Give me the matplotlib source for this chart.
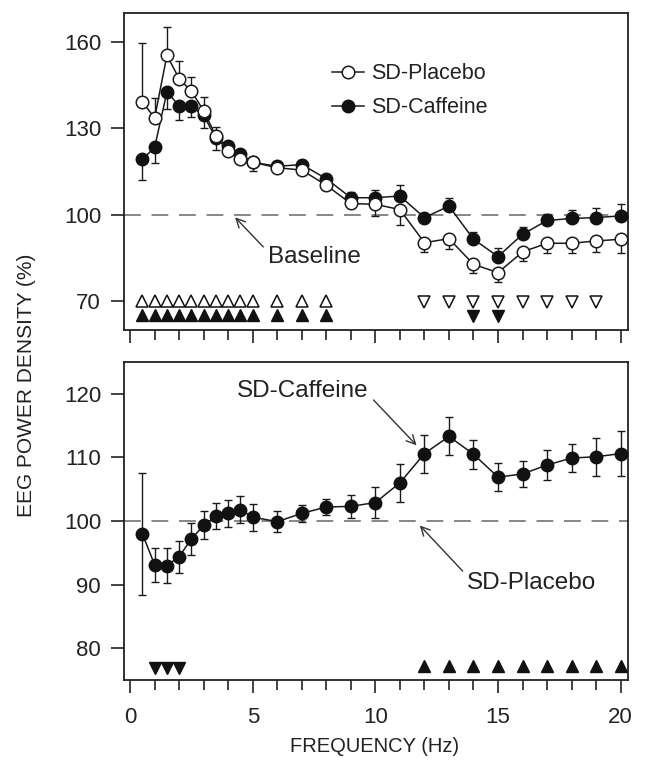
import numpy as np
import matplotlib
matplotlib.use("Agg")
import matplotlib.pyplot as plt
from matplotlib import font_manager as fm

# ---------------- data ----------------
freq = [0.5, 1, 1.5, 2, 2.5, 3, 3.5, 4, 4.5, 5, 6, 7, 8, 9, 10, 11, 12, 13, 14, 15, 16, 17, 18, 19, 20]

placebo = [139.1, 133.6, 155.3, 147.2, 142.8, 136.1, 127.2, 122.0, 119.2, 118.2, 116.3, 115.5, 110.2,
           103.9, 103.6, 101.8, 90.3, 91.7, 82.8, 79.9, 87.1, 90.1, 90.1, 90.9, 91.5]
placebo_err = [20.4, 6.9, 10.0, 6.0, 5.0, 4.7, 3.3, 2.9, 2.0, 2.0, 1.5, 1.2, 1.5,
               1.5, 4.0, 5.5, 3.2, 3.5, 2.9, 3.2, 3.1, 3.5, 3.5, 4.0, 4.9]

caffeine = [119.2, 123.4, 142.6, 137.8, 137.6, 134.5, 126.5, 123.8, 121.2, 118.2, 116.8, 117.4, 112.5,
            105.9, 105.9, 106.5, 99.0, 103.0, 91.5, 85.5, 93.2, 98.0, 98.7, 99.0, 99.6]
caffeine_err = [7.3, 5.4, 6.0, 4.8, 3.7, 4.4, 4.0, 2.5, 3.5, 3.0, 1.5, 1.5, 1.8,
                2.0, 2.6, 3.7, 1.2, 2.9, 2.5, 2.8, 2.6, 2.1, 2.8, 3.4, 4.0]

ratio = [98.0, 93.1, 93.0, 94.4, 97.2, 99.3, 100.8, 101.2, 101.8, 100.6, 99.9, 101.2, 102.2,
         102.3, 102.9, 106.0, 110.6, 113.3, 110.5, 106.9, 107.4, 108.8, 109.9, 110.1, 110.6]
ratio_err = [9.6, 2.7, 2.7, 2.5, 2.5, 2.2, 2.1, 2.1, 2.1, 2.1, 1.6, 1.3, 1.2,
             1.8, 2.5, 3.0, 3.0, 3.0, 2.3, 2.2, 2.0, 2.3, 2.2, 3.0, 3.6]

# significance markers
top_open_up = [0.5, 1, 1.5, 2, 2.5, 3, 3.5, 4, 4.5, 5, 6, 7, 8]
top_filled_up = [0.5, 1, 1.5, 2, 2.5, 3, 3.5, 4, 4.5, 5, 6, 7, 8]
top_open_down = [12, 13, 14, 15, 16, 17, 18, 19]
top_filled_down = [14, 15]
bottom_filled_down = [1, 1.5, 2]
bottom_filled_up = [12, 13, 14, 15, 16, 17, 18, 19, 20]

x_major = [0, 5, 10, 15, 20]
x_minor = list(range(0, 21))
top_yticks = [70, 100, 130, 160]
bottom_yticks = [80, 90, 100, 110, 120]

# ---------------- fonts ----------------
names = {f.name for f in fm.fontManager.ttflist}
MAIN = "Liberation Sans" if "Liberation Sans" in names else "DejaVu Sans"
NARROW = "Liberation Sans Narrow" if "Liberation Sans Narrow" in names else MAIN
plt.rcParams["font.family"] = [MAIN, "DejaVu Sans"]

TXT = "#222222"
FS_TICK = 16
FS_LEG = 15.5
FS_ANN = 17.5

fig = plt.figure(figsize=(6.48, 7.73), dpi=100)
W, H = 648.0, 773.0
def axrect(l, r, t, b):
    return [l / W, 1 - b / H, (r - l) / W, (b - t) / H]

ax1 = fig.add_axes(axrect(124, 628, 13, 330))
ax2 = fig.add_axes(axrect(124, 628, 362, 680))

freq_a = np.array(freq)
low = freq_a <= 6
z = np.zeros_like(freq_a)

pl = np.array(placebo_err)
cf = np.array(caffeine_err)
pl_yerr = [np.where(low, z, pl), np.where(low, pl, z)]
cf_yerr = [np.where(low, cf, z), np.where(low, z, cf)]

MS = 9
LW = 1.1

# caffeine (filled) drawn first
ax1.errorbar(freq, caffeine, yerr=cf_yerr, fmt="none", ecolor="#1a1a1a", elinewidth=1.0,
             capsize=3, capthick=1.0, zorder=2)
ax1.plot(freq, caffeine, "-o", color="#1a1a1a", mfc="#111111", mec="#111111",
         ms=MS, lw=LW, label="SD-Caffeine", zorder=3)
ax1.errorbar(freq, placebo, yerr=pl_yerr, fmt="none", ecolor="#1a1a1a", elinewidth=1.0,
             capsize=3, capthick=1.0, zorder=4)
ax1.plot(freq, placebo, "-o", color="#1a1a1a", mfc="white", mec="#1a1a1a", mew=1.1,
         ms=MS, lw=LW, label="SD-Placebo", zorder=5)

ax1.axhline(100, color="#666666", lw=1.1, dashes=(11, 7), zorder=1)

TMS = 8.5
ax1.plot(top_open_up, [70] * len(top_open_up), "^", ms=TMS, mfc="white", mec="#111111", mew=1.1, ls="none")
ax1.plot(top_filled_up, [65.3] * len(top_filled_up), "^", ms=TMS, mfc="#111111", mec="#111111", ls="none")
ax1.plot(top_open_down, [69.6] * len(top_open_down), "v", ms=TMS, mfc="white", mec="#111111", mew=1.1, ls="none")
ax1.plot(top_filled_down, [65.0] * len(top_filled_down), "v", ms=TMS, mfc="#111111", mec="#111111", ls="none")

ax1.annotate("Baseline", xy=(4.28, 99.1), xytext=(5.62, 85.2), fontsize=FS_ANN, color=TXT,
             ha="left", va="center",
             arrowprops=dict(arrowstyle="->", color="#333333", lw=1.0, shrinkA=2, shrinkB=0,
                             mutation_scale=16, relpos=(0.0, 0.75)))

h, l = ax1.get_legend_handles_labels()
order = [1, 0]
leg = ax1.legend([h[i] for i in order], [l[i] for i in order], loc="upper left",
                 bbox_to_anchor=(0.413, 0.842), frameon=False, fontsize=FS_LEG,
                 handlelength=1.5, handletextpad=0.3, labelspacing=0.62, borderpad=0,
                 borderaxespad=0)
for t in leg.get_texts():
    t.set_color(TXT)

ax1.set_ylim(60, 170)
ax1.set_yticks(top_yticks)

# bottom panel
ax2.axhline(100, color="#666666", lw=1.1, dashes=(11, 7), zorder=1)
ax2.errorbar(freq, ratio, yerr=ratio_err, fmt="none", ecolor="#1a1a1a", elinewidth=1.0,
             capsize=3, capthick=1.0, zorder=2)
ax2.plot(freq, ratio, "-o", color="#1a1a1a", mfc="#111111", mec="#111111", ms=MS, lw=LW, zorder=3)
ax2.plot(bottom_filled_down, [76.9] * len(bottom_filled_down), "v", ms=TMS, mfc="#111111", mec="#111111", ls="none")
ax2.plot(bottom_filled_up, [77.2] * len(bottom_filled_up), "^", ms=TMS, mfc="#111111", mec="#111111", ls="none")

ax2.annotate("SD-Caffeine", xy=(11.68, 111.9), xytext=(7.05, 120.5), fontsize=FS_ANN, color=TXT,
             ha="center", va="center",
             arrowprops=dict(arrowstyle="->", color="#333333", lw=1.0, shrinkA=2, shrinkB=0,
                             mutation_scale=16, relpos=(1.0, 0.3)))
ax2.annotate("SD-Placebo", xy=(11.81, 99.3), xytext=(13.75, 90.3), fontsize=FS_ANN, color=TXT,
             ha="left", va="center",
             arrowprops=dict(arrowstyle="->", color="#333333", lw=1.0, shrinkA=2, shrinkB=0,
                             mutation_scale=16, relpos=(0.0, 0.8)))

ax2.set_ylim(75, 125)
ax2.set_yticks(bottom_yticks)

for ax in (ax1, ax2):
    ax.set_xlim(-0.25, 20.3)
    ax.set_xticks(x_major)
    ax.set_xticks(x_minor, minor=True)
    for s in ax.spines.values():
        s.set_linewidth(1.3)
        s.set_color("#222222")
    ax.tick_params(axis="y", which="major", direction="out", length=9.5, width=1.2,
                   labelsize=FS_TICK, colors="#222222", labelcolor=TXT, pad=7)
    ax.tick_params(axis="x", which="major", direction="out", length=9.4, width=1.2,
                   labelsize=FS_TICK, colors="#222222", labelcolor=TXT, pad=10)
    ax.tick_params(axis="x", which="minor", direction="out", length=7, width=1.2, colors="#222222")
    ax.tick_params(axis="y", which="minor", left=False)

ax1.tick_params(axis="x", which="both", labelbottom=False)

fig.text(375 / W, 1 - 746 / H, "FREQUENCY (Hz)", ha="center", va="center",
         fontsize=14.5, color=TXT, family=[NARROW, "DejaVu Sans"])
fig.text(27 / W, 1 - 385 / H, "EEG POWER DENSITY (%)", ha="center", va="center",
         rotation=90, fontsize=15, color=TXT, family=[NARROW, "DejaVu Sans"])

fig.savefig("out.png", dpi=100)
